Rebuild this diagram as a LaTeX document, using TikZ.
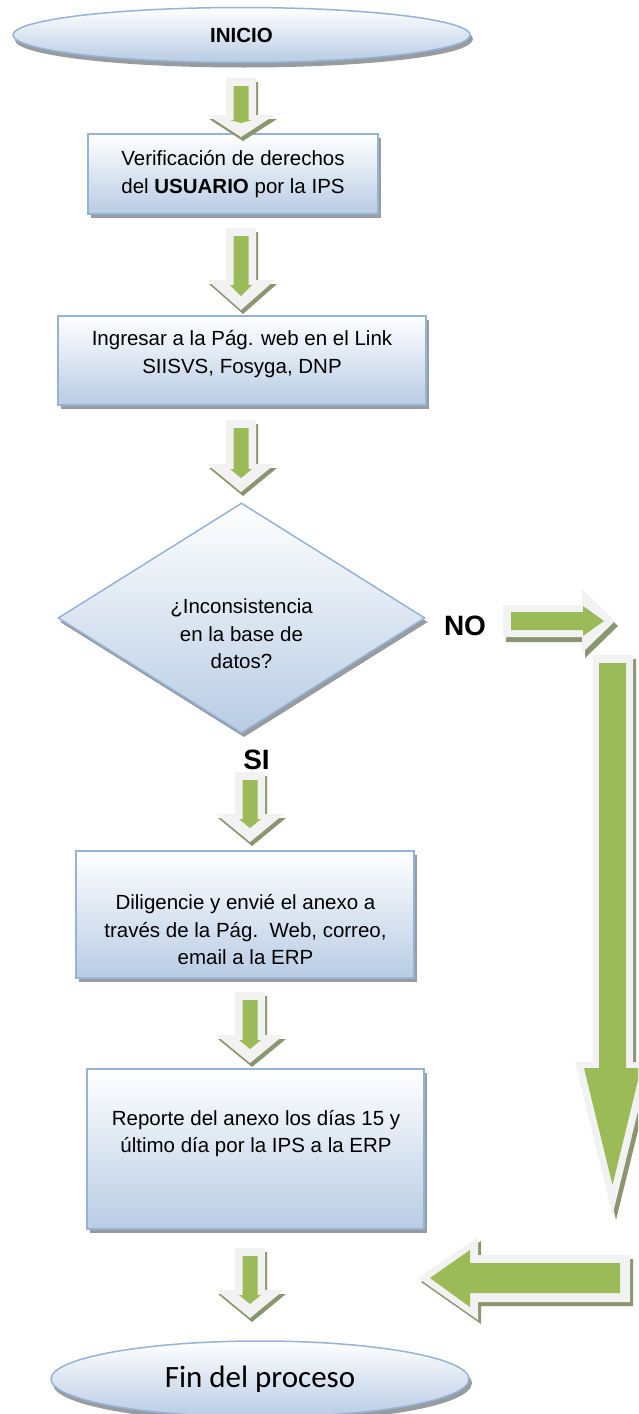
\documentclass[tikz,border=0pt]{standalone}
\usepackage{fontspec}
\setmainfont{Liberation Sans}
\newfontfamily\calibri{Carlito}
\usetikzlibrary{shapes.geometric,shadows}

\definecolor{bordeazul}{RGB}{149,179,215}
\definecolor{fondoazul}{RGB}{184,204,228}
\definecolor{sombra}{RGB}{152,155,160}
\definecolor{verde}{RGB}{155,187,89}
\definecolor{gris}{RGB}{242,242,242}
\definecolor{sombraverde}{RGB}{138,150,112}

% flecha de bloque hacia abajo: centro x, arriba y, largo, cabeza
\newcommand{\flechaabajo}[4]{%
    \begin{scope}[shift={(#1,#2)}]
        \fill[sombraverde] (-13,4) -- (17,4) -- (17,#3-#4+4) -- (36,#3-#4+4) -- (2,#3+4) -- (-32,#3-#4+4) -- (-13,#3-#4+4) -- cycle;
        \fill[gris] (-15,0) -- (15,0) -- (15,#3-#4) -- (34,#3-#4) -- (0,#3) -- (-34,#3-#4) -- (-15,#3-#4) -- cycle;
        \fill[verde] (-7.5,8) -- (7.5,8) -- (7.5,#3-#4+5) -- (11,#3-#4+5) -- (0,#3-14) -- (-11,#3-#4+5) -- (-7.5,#3-#4+5) -- cycle;
    \end{scope}}

\begin{document}
\begin{tikzpicture}[x=1pt, y=-1pt,
        caja/.style={rectangle, draw=bordeazul, line width=1.5pt, top color=white, bottom color=fondoazul, inner sep=0pt,
            drop shadow={shadow xshift=3pt, shadow yshift=-4pt, fill=sombra, opacity=1}},
        ovalo/.style={caja, ellipse, drop shadow={shadow xshift=2pt, shadow yshift=-5pt, fill=sombra, opacity=1}},
        rombo/.style={caja, diamond, drop shadow={shadow xshift=2pt, shadow yshift=-4pt, fill=sombra, opacity=1}},
        texto/.style={align=center, font=\fontsize{20.5}{27.5}\selectfont},
        etiqueta/.style={font=\bfseries\fontsize{28}{30}\selectfont}] %1
            \useasboundingbox (0,0) rectangle (638,1414);
            \clip (0,0) rectangle (638,1414);

            \node[ovalo, minimum width=457pt, minimum height=55pt, font=\bfseries\fontsize{20.5}{24}\selectfont] (inicio) at (241.5,35) {INICIO};
            \node[caja, minimum width=290pt, minimum height=80pt, texto] (verif) at (233,174) {Verificación de derechos\\del \textbf{USUARIO} por la IPS};
            \node[caja, minimum width=368pt, minimum height=89pt] (ingreso) at (242,360.5) {};
            \node[texto] (tingreso) at (242,354) {Ingresar a la Pág. web en el Link\\SIISVS, Fosyga, DNP};
            \node[rombo, minimum width=367pt, minimum height=230pt] (inconsis) at (241.5,618) {};
            \node[texto] (tinconsis) at (241.5,634) {¿Inconsistencia\\en la base de\\datos?};
            \node[etiqueta] (no) at (465,626) {NO};
            \node[etiqueta] (si) at (256.5,760) {SI};
            \node[caja, minimum width=338pt, minimum height=127pt] (dilig) at (245,914.5) {};
            \node[texto] (tdilig) at (245.5,930) {Diligencie y envié el anexo a\\través de la Pág.~~Web, correo,\\email a la ERP};
            \node[caja, minimum width=337pt, minimum height=160pt] (reporte) at (255.5,1149) {};
            \node[texto] (treporte) at (256,1133.5) {Reporte del anexo los días 15 y\\último día por la IPS a la ERP};
            \node[ovalo, minimum width=418pt, minimum height=76pt, font=\calibri\fontsize{31}{34}\selectfont] (fin) at (260,1379) {Fin del proceso};

            \flechaabajo{241}{78}{59}{22}
            \flechaabajo{241}{228}{82}{30}
            \flechaabajo{241}{420}{72}{28}
            \flechaabajo{250}{772}{70}{28}
            \flechaabajo{250}{992}{71}{28}
            \flechaabajo{250}{1248}{70}{28}

            \fill[sombraverde] (506,610) -- (585,610) -- (585,594) -- (618,626) -- (585,658) -- (585,642) -- (506,642) -- cycle;
            \fill[gris] (503,605) -- (582,605) -- (582,589) -- (615,621) -- (582,653) -- (582,637) -- (503,637) -- cycle;
            \fill[verde] (511,612) -- (583,612) -- (583,606) -- (604,621) -- (583,636) -- (583,630) -- (511,630) -- cycle;

            \fill[sombraverde] (596,659) -- (636,659) -- (636,1066) -- (654,1066) -- (616,1220) -- (578,1066) -- (596,1066) -- cycle;
            \fill[gris] (593,655) -- (633,655) -- (633,1062) -- (650,1062) -- (612.5,1215) -- (575,1062) -- (593,1062) -- cycle;
            \fill[verde] (599,663) -- (626,663) -- (626,1068) -- (641,1068) -- (612.5,1185) -- (584,1068) -- (599,1068) -- cycle;

            \fill[sombraverde] (421,1282) -- (481,1241) -- (481,1259) -- (633,1259) -- (633,1306) -- (481,1306) -- (481,1324) -- cycle;
            \fill[gris] (418,1278) -- (478,1237) -- (478,1255) -- (630,1255) -- (630,1302) -- (478,1302) -- (478,1320) -- cycle;
            \fill[verde] (430,1278) -- (470,1250) -- (470,1263) -- (620,1263) -- (620,1293) -- (470,1293) -- (470,1307) -- cycle;
        \end{tikzpicture}
\end{document}
